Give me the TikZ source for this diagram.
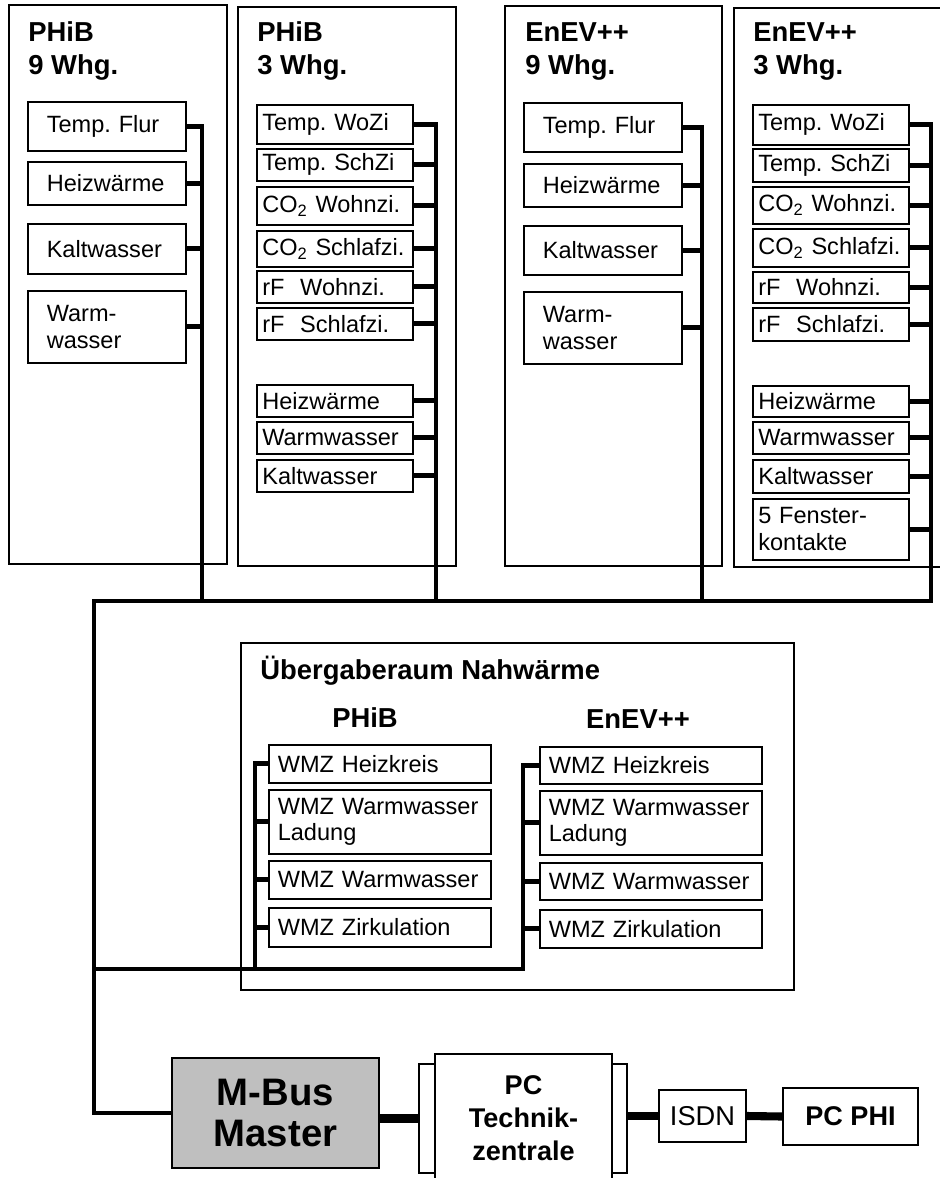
\documentclass[tikz,border=0pt]{standalone}
\usepackage{fontspec}
\setmainfont{Liberation Sans}
\frenchspacing
\newcommand{\sensfont}{\fontsize{13.4}{15.3}\selectfont}
\newcommand{\titelfont}{\fontsize{15.6}{19}\selectfont\bfseries}
\newcommand{\pcfont}{\fontsize{15.4}{18.7}\selectfont\bfseries}
\newcommand{\masterfont}{\fontsize{21.8}{23.3}\selectfont\bfseries}
\tikzset{
  haus/.style   = {draw, line width=0.9pt},
  titel/.style  = {font=\titelfont, align=left, inner sep=0pt, anchor=base west},
  sens/.style   = {draw, line width=0.9pt, anchor=north west, font=\sensfont,
                   align=left, inner ysep=0.5mm},
  sensA/.style  = {sens, inner xsep=3.8mm, text width=24mm},
  sensB/.style  = {sens, inner xsep=1.1mm, text width=29mm},
  wmz/.style    = {sens, inner xsep=1.8mm, text width=40.8mm},
  geraet/.style = {draw, line width=0.9pt, fill=white, align=center, inner sep=0pt},
  bus/.style    = {line width=2.8pt},
  link/.style   = {line width=4.6pt}
}

\begin{document}
\begin{tikzpicture}[x=0.2mm, y=-0.2mm]
\useasboundingbox (0,0) rectangle (940,1178);

% ---------------- PHiB 9 Whg. ----------------
\draw[haus] (9,5) rectangle (227,564);
\node[titel] (t1) at (28,75) {PHiB\\9 Whg.};
\node[sensA, minimum height=9.8mm] (p9flur) at (27,101) {Temp. Flur};
\node[sensA, minimum height=8.6mm] (p9heiz) at (27,161) {Heizwärme};
\node[sensA, minimum height=10mm] (p9kalt) at (27,223) {Kaltwasser};
\node[sensA, minimum height=14.4mm] (p9warm) at (27,290) {Warm-\\wasser};

% ---------------- PHiB 3 Whg. ----------------
\draw[haus] (238,7) rectangle (456,566);
\node[titel] (t2) at (257,75) {PHiB\\3 Whg.};
\node[sensB, minimum height=7.8mm] (p3wozi) at (256,104) {Temp. WoZi};
\node[sensB, minimum height=6.4mm] (p3schzi) at (256,148) {Temp. SchZi};
\node[sensB, minimum height=7.6mm] (p3co2w) at (256,186) {CO\textsubscript{2} Wohnzi.};
\node[sensB, minimum height=7.2mm] (p3co2s) at (256,230) {CO\textsubscript{2} Schlafzi.};
\node[sensB, minimum height=6.4mm] (p3rfw) at (256,270) {rF~~Wohnzi.};
\node[sensB, minimum height=6.4mm] (p3rfs) at (256,307) {rF~~Schlafzi.};
\node[sensB, minimum height=6.4mm] (p3heiz) at (256,384) {Heizwärme};
\node[sensB, minimum height=6.4mm] (p3warm) at (256,421) {Warmwasser};
\node[sensB, minimum height=6.4mm] (p3kalt) at (256,459) {Kaltwasser};

% ---------------- EnEV++ 9 Whg. ----------------
\draw[haus] (505,6) rectangle (722,566);
\node[titel] (t3) at (525,75) {EnEV++\\9 Whg.};
\node[sensA, minimum height=9.8mm] (e9flur) at (523,102) {Temp. Flur};
\node[sensA, minimum height=8.6mm] (e9heiz) at (523,163) {Heizwärme};
\node[sensA, minimum height=9.8mm] (e9kalt) at (523,225) {Kaltwasser};
\node[sensA, minimum height=14.4mm] (e9warm) at (523,291) {Warm-\\wasser};

% ---------------- EnEV++ 3 Whg. ----------------
\draw[haus] (734,8) rectangle (960,567);
\node[titel] (t4) at (753,75) {EnEV++\\3 Whg.};
\node[sensB, minimum height=8mm] (e3wozi) at (752,104) {Temp. WoZi};
\node[sensB, minimum height=6.6mm] (e3schzi) at (752,148) {Temp. SchZi};
\node[sensB, minimum height=7.4mm] (e3co2w) at (752,186) {CO\textsubscript{2} Wohnzi.};
\node[sensB, minimum height=7.6mm] (e3co2s) at (752,228) {CO\textsubscript{2} Schlafzi.};
\node[sensB, minimum height=6.2mm] (e3rfw) at (752,271) {rF~~Wohnzi.};
\node[sensB, minimum height=6.6mm] (e3rfs) at (752,307) {rF~~Schlafzi.};
\node[sensB, minimum height=6.2mm] (e3heiz) at (752,385) {Heizwärme};
\node[sensB, minimum height=6.4mm] (e3warm) at (752,421) {Warmwasser};
\node[sensB, minimum height=6.6mm] (e3kalt) at (752,459) {Kaltwasser};
\node[sensB, minimum height=12.2mm] (e3fen) at (752,498) {5 Fenster-\\kontakte};

\coordinate (b1) at (202,601);
\coordinate (b2) at (436,601);
\coordinate (b3) at (702,601);
\coordinate (b4) at (931,601);
\coordinate (bl) at (94,601);

% ---------------- Uebergaberaum ----------------
\draw[haus] (241,643) rectangle (794,990);
\node[titel] (tue) at (260,679) {Übergaberaum Nahwärme};
\node[titel, anchor=base] (tup) at (365,727) {PHiB};
\node[titel, anchor=base] (tuen) at (638,728) {EnEV++};
\node[wmz, minimum height=7.6mm] (wp1) at (268,744) {WMZ Heizkreis};
\node[wmz, minimum height=12.8mm] (wp2) at (268,789) {WMZ Warmwasser\\Ladung};
\node[wmz, minimum height=7.6mm] (wp3) at (268,860) {WMZ Warmwasser};
\node[wmz, minimum height=7.8mm] (wp4) at (268,907) {WMZ Zirkulation};
\node[wmz, minimum height=7.4mm] (we1) at (539,746) {WMZ Heizkreis};
\node[wmz, minimum height=12.8mm] (we2) at (539,790) {WMZ Warmwasser\\Ladung};
\node[wmz, minimum height=7.4mm] (we3) at (539,862) {WMZ Warmwasser};
\node[wmz, minimum height=7.6mm] (we4) at (539,909) {WMZ Zirkulation};

\coordinate (u1) at (255,969);
\coordinate (u2) at (523,969);
\coordinate (ul) at (94,969);

% ---------------- Zentrale ----------------
\node[geraet, fill=black!25, font=\masterfont, minimum width=41.4mm, minimum height=22mm]
      (mbus) at (275.5,1113) {M-Bus\\Master};
\node[geraet, minimum width=41.6mm, minimum height=21.8mm] (pcrahmen) at (523,1118.5) {};
\node[geraet, font=\pcfont, minimum width=35.4mm, minimum height=25.6mm]
      (pctz) at (523.5,1118) {PC\\Technik-\\zentrale};
\node[geraet, font=\fontsize{15.5}{18}\selectfont, minimum width=17.4mm, minimum height=10.4mm]
      (isdn) at (702.5,1116) {ISDN};
\node[geraet, font=\pcfont, minimum width=27mm, minimum height=11.4mm]
      (pcphi) at (850.5,1116.5) {PC PHI};

% ---------------- bus lines ----------------
\draw[bus] (p9flur.east) -| (b1);
\draw[bus] (p9heiz.east) -- (p9heiz.east -| b1);
\draw[bus] (p9kalt.east) -- (p9kalt.east -| b1);
\draw[bus] (p9warm.east) -- (p9warm.east -| b1);

\draw[bus] (p3wozi.east) -| (b2);
\draw[bus] (p3schzi.east) -- (p3schzi.east -| b2);
\draw[bus] (p3co2w.east) -- (p3co2w.east -| b2);
\draw[bus] (p3co2s.east) -- (p3co2s.east -| b2);
\draw[bus] (p3rfw.east) -- (p3rfw.east -| b2);
\draw[bus] (p3rfs.east) -- (p3rfs.east -| b2);
\draw[bus] (p3heiz.east) -- (p3heiz.east -| b2);
\draw[bus] (p3warm.east) -- (p3warm.east -| b2);
\draw[bus] (p3kalt.east) -- (p3kalt.east -| b2);

\draw[bus] (e9flur.east) -| (b3);
\draw[bus] (e9heiz.east) -- (e9heiz.east -| b3);
\draw[bus] (e9kalt.east) -- (e9kalt.east -| b3);
\draw[bus] (e9warm.east) -- (e9warm.east -| b3);

% main bus down to the master
\draw[bus] (e3wozi.east) -| (b4) -- (bl) |- (mbus.west);
\draw[bus] (e3schzi.east) -- (e3schzi.east -| b4);
\draw[bus] (e3co2w.east) -- (e3co2w.east -| b4);
\draw[bus] (e3co2s.east) -- (e3co2s.east -| b4);
\draw[bus] (e3rfw.east) -- (e3rfw.east -| b4);
\draw[bus] (e3rfs.east) -- (e3rfs.east -| b4);
\draw[bus] (e3heiz.east) -- (e3heiz.east -| b4);
\draw[bus] (e3warm.east) -- (e3warm.east -| b4);
\draw[bus] (e3kalt.east) -- (e3kalt.east -| b4);
\draw[bus] (e3fen.east) -- (e3fen.east -| b4);

\draw[bus] (wp1.west) -| (u1);
\draw[bus] (wp2.west) -- (wp2.west -| u1);
\draw[bus] (wp3.west) -- (wp3.west -| u1);
\draw[bus] (wp4.west) -- (wp4.west -| u1);
\draw[bus] (we1.west) -| (u2) -- (ul);
\draw[bus] (we2.west) -- (we2.west -| u2);
\draw[bus] (we3.west) -- (we3.west -| u2);
\draw[bus] (we4.west) -- (we4.west -| u2);

% links of the central
\draw[link] (mbus.east |- pcrahmen.west) -- (pcrahmen.west);
\draw[link] (pcrahmen.east |- isdn.west) -- (isdn.west);
\draw[link] (isdn.east) -- (pcphi.west);

\end{tikzpicture}
\end{document}
